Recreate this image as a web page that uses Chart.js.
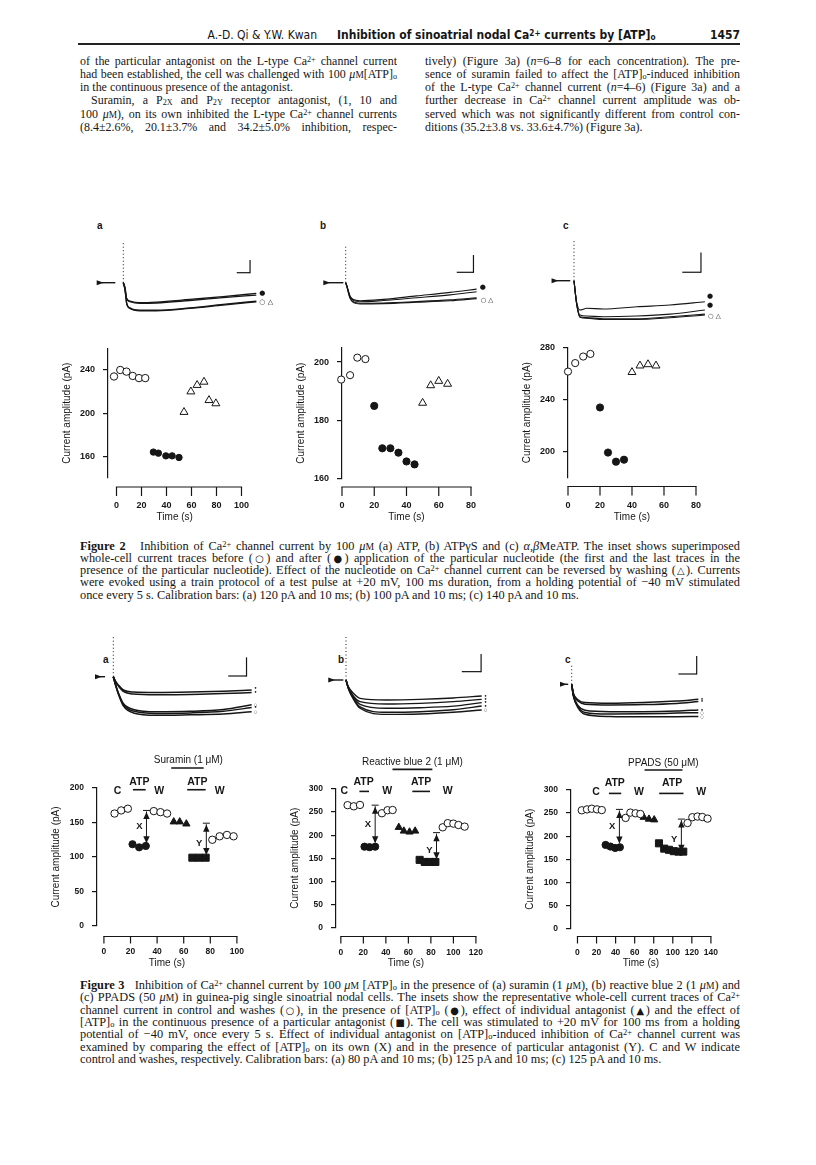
<!DOCTYPE html>
<html>
<head>
<meta charset="utf-8">
<title>Inhibition of sinoatrial nodal Ca2+ currents by [ATP]o</title>
<script src="https://cdn.jsdelivr.net/npm/chart.js"></script>
<style>
  body { margin: 0; background: #fff; }
  #page { position: relative; width: 816px; height: 1165px; overflow: hidden; color: #161616;
          font-family: "Liberation Serif", "DejaVu Serif", serif; }
  .ln { position: absolute; height: 14px; line-height: 14px; font-size: 11px; text-align: justify; text-align-last: justify; overflow: hidden; }
  .ln.end { text-align-last: left; }
  .cap { position: absolute; height: 13px; line-height: 13px; font-size: 10.5px; text-align: justify; text-align-last: justify; overflow: hidden; }
  .cap.end { text-align-last: left; }
  sup, sub { font-size: 0.68em; line-height: 0; }
  sup { vertical-align: 0.4em; }
  sub { vertical-align: -0.15em; }
  .sc { font-size: 0.78em; }
  .sym { font-family: "DejaVu Sans", sans-serif; font-size: 0.8em; }
  .hd { position: absolute; top: 28px; font-family: "Liberation Sans Narrow", "DejaVu Sans Condensed", "Liberation Sans", sans-serif; font-size: 12px; line-height: 14px; white-space: nowrap; }
  .lab { position: absolute; font-family: "Liberation Sans", Arial, sans-serif; font-weight: bold; font-size: 10px; }
  canvas { position: absolute; }
</style>
</head>
<body>
<div id="page">
  <div class="hd" style="left:200px;width:117px;text-align:right;">A.-D. Qi &amp; Y.W. Kwan</div>
  <div class="hd" style="left:337px;font-weight:bold;">Inhibition of sinoatrial nodal Ca<sup>2+</sup> currents by [ATP]<sub>o</sub></div>
  <div class="hd" style="left:700px;width:40px;text-align:right;font-weight:bold;">1457</div>
  <div style="position:absolute;left:78px;top:43px;width:662px;height:1.5px;background:#222;"></div>

  <div class="ln" style="left:80px;top:54px;width:317px;">of the particular antagonist on the L-type Ca<sup>2+</sup> channel current</div>
  <div class="ln" style="left:80px;top:67px;width:317px;">had been established, the cell was challenged with 100 <i>μ</i><span class="sc">M</span>[ATP]<sub>o</sub></div>
  <div class="ln end" style="left:80px;top:80px;width:317px;">in the continuous presence of the antagonist.</div>
  <div class="ln" style="left:91px;top:93px;width:306px;">Suramin, a P<sub>2X</sub> and P<sub>2Y</sub> receptor antagonist, (1, 10 and</div>
  <div class="ln" style="left:80px;top:107px;width:317px;">100 <i>μ</i><span class="sc">M</span>), on its own inhibited the L-type Ca<sup>2+</sup> channel currents</div>
  <div class="ln" style="left:80px;top:120px;width:317px;">(8.4±2.6%, 20.1±3.7% and 34.2±5.0% inhibition, respec-</div>

  <div class="ln" style="left:425px;top:54px;width:315px;">tively) (Figure 3a) (<i>n</i>=6–8 for each concentration). The pre-</div>
  <div class="ln" style="left:425px;top:67px;width:315px;">sence of suramin failed to affect the [ATP]<sub>o</sub>-induced inhibition</div>
  <div class="ln" style="left:425px;top:80px;width:315px;">of the L-type Ca<sup>2+</sup> channel current (<i>n</i>=4–6) (Figure 3a) and a</div>
  <div class="ln" style="left:425px;top:93px;width:315px;">further decrease in Ca<sup>2+</sup> channel current amplitude was ob-</div>
  <div class="ln" style="left:425px;top:107px;width:315px;">served which was not significantly different from control con-</div>
  <div class="ln end" style="left:425px;top:120px;width:315px;">ditions (35.2±3.8 vs. 33.6±4.7%) (Figure 3a).</div>

  <div class="lab" style="left:97px;top:220px;">a</div>
  <div class="lab" style="left:320px;top:220px;">b</div>
  <div class="lab" style="left:563px;top:220px;">c</div>
  <div class="lab" style="left:103px;top:654px;">a</div>
  <div class="lab" style="left:338px;top:654px;">b</div>
  <div class="lab" style="left:565px;top:654px;">c</div>

  <div class="cap" style="left:80px;top:540px;width:660px;"><b>Figure 2</b>&nbsp;&nbsp; Inhibition of Ca<sup>2+</sup> channel current by 100 <i>μ</i><span class="sc">M</span> (a) ATP, (b) ATPγS and (c) <i>α,β</i>MeATP. The inset shows superimposed</div>
  <div class="cap" style="left:80px;top:552px;width:660px;">whole-cell current traces before (<span class="sym">○</span>) and after (<span class="sym">●</span>) application of the particular nucleotide (the first and the last traces in the</div>
  <div class="cap" style="left:80px;top:564px;width:660px;">presence of the particular nucleotide). Effect of the nucleotide on Ca<sup>2+</sup> channel current can be reversed by washing (<span class="sym">△</span>). Currents</div>
  <div class="cap" style="left:80px;top:576px;width:660px;">were evoked using a train protocol of a test pulse at +20 mV, 100 ms duration, from a holding potential of −40 mV stimulated</div>
  <div class="cap end" style="left:80px;top:589px;width:660px;">once every 5 s. Calibration bars: (a) 120 pA and 10 ms; (b) 100 pA and 10 ms; (c) 140 pA and 10 ms.</div>

  <div class="cap" style="left:80px;top:979px;width:660px;"><b>Figure 3</b>&nbsp;&nbsp; Inhibition of Ca<sup>2+</sup> channel current by 100 <i>μ</i><span class="sc">M</span> [ATP]<sub>o</sub> in the presence of (a) suramin (1 <i>μ</i><span class="sc">M</span>), (b) reactive blue 2 (1 <i>μ</i><span class="sc">M</span>) and</div>
  <div class="cap" style="left:80px;top:991px;width:660px;">(c) PPADS (50 <i>μ</i><span class="sc">M</span>) in guinea-pig single sinoatrial nodal cells. The insets show the representative whole-cell current traces of Ca<sup>2+</sup></div>
  <div class="cap" style="left:80px;top:1004px;width:660px;">channel current in control and washes (<span class="sym">○</span>), in the presence of [ATP]<sub>o</sub> (<span class="sym">●</span>), effect of individual antagonist (<span class="sym">▲</span>) and the effect of</div>
  <div class="cap" style="left:80px;top:1016px;width:660px;">[ATP]<sub>o</sub> in the continuous presence of a particular antagonist (<span class="sym">■</span>). The cell was stimulated to +20 mV for 100 ms from a holding</div>
  <div class="cap" style="left:80px;top:1028px;width:660px;">potential of −40 mV, once every 5 s. Effect of individual antagonist on [ATP]<sub>o</sub>-induced inhibition of Ca<sup>2+</sup> channel current was</div>
  <div class="cap" style="left:80px;top:1041px;width:660px;">examined by comparing the effect of [ATP]<sub>o</sub> on its own (X) and in the presence of particular antagonist (Y). C and W indicate</div>
  <div class="cap end" style="left:80px;top:1053px;width:660px;">control and washes, respectively. Calibration bars: (a) 80 pA and 10 ms; (b) 125 pA and 10 ms; (c) 125 pA and 10 ms.</div>
</div>

<script>
  const INK = "#161616";
  const SANS = '"Liberation Sans", Arial, sans-serif';

  // ---------- Figure 2 : time (s) and current amplitude (pA) ----------
  const f2aCtrlT = [-2, 3, 8, 13, 18, 23];
  const f2aCtrlV = [234, 240, 238.5, 234.5, 232.5, 232.5];
  const f2aAtpT  = [29.5, 33.5, 39.5, 44.5, 50];
  const f2aAtpV  = [164, 163, 160.5, 160.5, 159];
  const f2aWashT = [54, 59.5, 64.5, 70, 74, 79.5];
  const f2aWashV = [201, 220, 226, 229, 212, 209];

  const f2bCtrlT = [-0.5, 5, 9.5, 14.5];
  const f2bCtrlV = [194, 195.5, 201.5, 201];
  const f2bAtpT  = [20, 25, 30, 35, 40, 45];
  const f2bAtpV  = [185, 170.5, 170.5, 169, 166, 165];
  const f2bWashT = [50, 55, 60, 65.5];
  const f2bWashV = [186, 192, 193.5, 192.5];

  const f2cCtrlT = [0, 4.5, 9.5, 14];
  const f2cCtrlV = [261.5, 268, 273, 275];
  const f2cAtpT  = [20, 25, 30, 35];
  const f2cAtpV  = [234, 199.5, 192.5, 194];
  const f2cWashT = [40, 45, 50, 55];
  const f2cWashV = [261, 266, 267, 266];

  const f2aYTicks = [160, 200, 240];
  const f2bYTicks = [160, 180, 200];
  const f2cYTicks = [200, 240, 280];
  const f2aXTicks = [0, 20, 40, 60, 80, 100];
  const f2bcXTicks = [0, 20, 40, 60, 80];

  // ---------- Figure 3 ----------
  const f3aCT  = [8, 13, 18];             const f3aCV  = [163, 167.5, 170];
  const f3aAT  = [21.5, 26.5, 31.5];      const f3aAV  = [118.5, 114, 116];
  const f3aW1T = [37.5, 42.5, 47.5];      const f3aW1V = [166.5, 165, 163];
  const f3aNT  = [52.5, 57, 62];          const f3aNV  = [151, 151, 148];
  const f3aST  = [66.5, 71.5, 76.5];      const f3aSV  = [99, 99, 99];
  const f3aW2T = [81.5, 87, 92.5, 97.5];  const f3aW2V = [125, 130, 132, 130];
  const f3aArrows = [[32, 167.5, 120, "X"], [77, 149, 103, "Y"]];

  const f3bCT  = [6, 11.5, 17];               const f3bCV  = [265, 262.5, 265.5];
  const f3bAT  = [21, 25.5, 30.5];            const f3bAV  = [175, 174, 175];
  const f3bW1T = [36.5, 41.5, 46];            const f3bW1V = [247.5, 254, 254.5];
  const f3bNT  = [51.5, 56, 61, 66];          const f3bNV  = [217, 209, 207, 209];
  const f3bST  = [70, 74.5, 79, 84];          const f3bSV  = [146.5, 142, 142, 142];
  const f3bW2T = [90.5, 95, 100, 104.5, 110]; const f3bW2V = [217, 226, 225, 222, 218.5];
  const f3bArrows = [[30.5, 265, 182.5, "X"], [85, 205.5, 148, "Y"]];

  const f3cCT  = [4.5, 10, 15, 20.5, 25.5];         const f3cCV  = [256, 258, 259.5, 258, 256.5];
  const f3cAT  = [29.5, 34.5, 39.5, 44.5];          const f3cAV  = [181, 177.5, 174.5, 176];
  const f3cW1T = [50.5, 55.5, 61, 66];              const f3cW1V = [239.5, 251, 249.5, 248];
  const f3cNT  = [69.5, 75, 80.5];                  const f3cNV  = [241, 237, 235.5];
  const f3cST  = [85.5, 91, 96, 101, 106, 111];     const f3cSV  = [184.5, 173, 170.5, 167.5, 166.5, 166.5];
  const f3cW2T = [115.5, 120.5, 126, 131, 136.5];   const f3cW2V = [228.5, 241, 242.5, 241.5, 238];
  const f3cArrows = [[44, 258, 184, "X"], [109, 237, 166.5, "Y"]];

  const f3aYTicks = [0, 50, 100, 150, 200];
  const f3bcYTicks = [0, 50, 100, 150, 200, 250, 300];
  const f3aXTicks = [0, 20, 40, 60, 80, 100];
  const f3bXTicks = [0, 20, 40, 60, 80, 100, 120];
  const f3cXTicks = [0, 20, 40, 60, 80, 100, 120, 140];

  // labels above the plots: [text, time, pA]
  const f3aNotes = [["C", 10.3, 196], ["ATP", 26.6, 208.7], ["W", 41.5, 196], ["ATP", 70.3, 208.7], ["W", 87, 196], ["Suramin (1 μM)", 63.5, 240]];
  const f3aBars  = [[21.8, 31.4, 197.5], [62.6, 76.5, 197.5], [50.6, 75, 229]];
  const f3bNotes = [["C", 3.1, 295.7], ["ATP", 20.2, 314.5], ["W", 41.3, 294.8], ["ATP", 71.3, 314.5], ["W", 95, 294.8], ["Reactive blue 2 (1 μM)", 63.6, 357.5]];
  const f3bBars  = [[16.5, 25, 294.8], [63.5, 79.2, 294.8], [45.9, 81.3, 342.6]];
  const f3cNotes = [["C", 19.4, 295], ["ATP", 39.1, 314.5], ["W", 64.6, 295], ["ATP", 99.3, 314.5], ["W", 129.9, 295], ["PPADS (50 μM)", 90.1, 359]];
  const f3cBars  = [[33, 45.9, 292.6], [85.7, 111.2, 292.6], [70.4, 110.2, 343.3]];

  // ---------- inset current traces : time (ms) and current (pA) ----------
  const f2aTrT = [0, 1.3, 2.5, 5, 12.5, 25, 50, 75, 100];
  const f2aTr = [
    [0, -69, -195, -243, -265, -265, -243, -211, -180],
    [0, -65, -190, -238, -260, -260, -238, -205, -175],
    [0, -50, -148, -173, -189, -183, -158, -132, -101],
    [0, -52, -152, -180, -196, -192, -168, -142, -117]
  ];
  const f2bTrT = [0, 0.6, 2.6, 4.6, 8.6, 22.5, 42.5, 62.5, 78.4];
  const f2bTr = [
    [0, -20, -90, -115, -123, -121, -113, -104, -92],
    [0, -18, -86, -110, -119, -117, -109, -99, -87],
    [0, -16, -80, -102, -110, -103, -87, -70, -52],
    [0, -15, -76, -97, -104, -96, -76, -56, -37]
  ];
  const f2cTrT = [0, 1.4, 3.2, 6.8, 15.7, 33.5, 51.3, 70];
  const f2cTr = [
    [0, -165, -260, -267, -275, -275, -263, -244],
    [0, -163, -256, -262, -270, -270, -256, -237],
    [0, -160, -244, -251, -256, -251, -237, -208],
    [0, -150, -208, -196, -201, -185, -173, -149]
  ];
  const f3aTrT = [0, 1.3, 2.8, 5.5, 11, 23.7, 41.9, 60.1, 75.6];
  const f3aTr = [
    [0, -20, -36, -57, -66, -68, -66, -62, -57],
    [0, -22, -40, -63, -74, -77, -76, -72, -68],
    [0, -35, -70, -115, -140, -150, -148, -140, -120],
    [0, -37, -72, -120, -147, -157, -155, -148, -132],
    [0, -38, -75, -125, -155, -165, -163, -160, -150]
  ];
  const f3bTrT = [0, 1.2, 3.8, 7.3, 21, 38.3, 55.6, 70.3];
  const f3bTr = [
    [0, -47, -94, -130, -141, -137, -127, -113],
    [0, -52, -113, -153, -170, -165, -153, -137],
    [0, -55, -120, -172, -200, -196, -185, -160],
    [0, -58, -128, -190, -228, -224, -210, -184],
    [0, -60, -135, -200, -243, -240, -228, -212]
  ];
  const f3cTrT = [0, 0.9, 3.6, 7.3, 20.9, 39.1, 57.3, 69.2];
  const f3cTr = [
    [0, -62, -109, -127, -132, -127, -116, -104],
    [0, -66, -118, -138, -143, -141, -133, -120],
    [0, -75, -150, -180, -190, -190, -186, -178],
    [0, -78, -158, -195, -206, -205, -200, -197],
    [0, -80, -165, -208, -224, -226, -225, -224]
  ];

  // ---------- justified text: one font size per block, as large as the tightest line allows ----------
  function fitLines(sel, base) {
    const els = Array.from(document.querySelectorAll(sel));
    let k = Infinity;
    els.forEach(el => {
      el.style.whiteSpace = "nowrap";
      el.style.textAlign = "left";
      el.style.textAlignLast = "left";
      const r = document.createRange();
      r.selectNodeContents(el);
      const w = r.getBoundingClientRect().width;
      el.style.whiteSpace = "";
      el.style.textAlign = "";
      el.style.textAlignLast = "";
      if (w > 0) k = Math.min(k, el.clientWidth / w);
    });
    const size = Math.min(base * k * 0.985, base * 1.25);
    els.forEach(el => { el.style.fontSize = size.toFixed(2) + "px"; });
  }
  fitLines(".ln", 11);
  fitLines(".cap", 10.5);

  // ---------- drawing helpers ----------
  const cfg = {};
  const page = document.getElementById("page");

  function addCanvas(id, left, top, w, h) {
    const c = document.createElement("canvas");
    c.id = id;
    c.width = w; c.height = h;
    c.style.left = left + "px"; c.style.top = top + "px";
    c.style.width = w + "px"; c.style.height = h + "px";
    page.appendChild(c);
    return c;
  }

  function seg(ctx, x1, y1, x2, y2) {
    ctx.beginPath(); ctx.moveTo(x1, y1); ctx.lineTo(x2, y2); ctx.stroke();
  }

  function head(ctx, x, y, dir) {
    ctx.beginPath();
    ctx.moveTo(x, y);
    ctx.lineTo(x - 3.2, y + dir * 7);
    ctx.lineTo(x + 3.2, y + dir * 7);
    ctx.closePath(); ctx.fill();
  }

  const figPlugin = {
    id: "fig",
    afterDraw(chart) {
      const o = cfg[chart.canvas.id];
      if (!o) return;
      const ctx = chart.ctx, xs = chart.scales.x, ys = chart.scales.y, ca = chart.chartArea;
      ctx.save();
      ctx.strokeStyle = INK; ctx.fillStyle = INK; ctx.lineWidth = 1.2;

      if (o.xTicks) {
        // detached time axis, ticks hanging down
        const y0 = ca.bottom + o.xGap;
        const xa = xs.getPixelForValue(o.xTicks[0]);
        const xb = xs.getPixelForValue(o.xTicks[o.xTicks.length - 1]);
        seg(ctx, xa - 0.6, y0, xb + 0.6, y0);
        o.xTicks.forEach(v => {
          const x = xs.getPixelForValue(v);
          seg(ctx, x, y0, x, y0 + o.tickLen);
        });
      }
      if (o.bars) {
        ctx.lineWidth = 1.6;
        o.bars.forEach(b => seg(ctx, xs.getPixelForValue(b[0]), ys.getPixelForValue(b[2]),
                                      xs.getPixelForValue(b[1]), ys.getPixelForValue(b[2])));
      }
      if (o.notes) {
        ctx.textAlign = "center"; ctx.textBaseline = "middle";
        o.notes.forEach(n => {
          ctx.font = (n[0].length > 3 ? "10px " : "bold 10.5px ") + SANS;
          ctx.fillText(n[0], xs.getPixelForValue(n[1]), ys.getPixelForValue(n[2]));
        });
      }
      if (o.arrows) {
        ctx.lineWidth = 1;
        o.arrows.forEach(a => {
          const x = xs.getPixelForValue(a[0]);
          const yt = ys.getPixelForValue(a[1]), yb = ys.getPixelForValue(a[2]);
          seg(ctx, x - 3.5, yt, x + 3.5, yt);
          seg(ctx, x, yt + 1, x, yb - 1);
          head(ctx, x, yt + 1.5, 1);
          head(ctx, x, yb, -1);
          ctx.font = "bold 9.5px " + SANS;
          ctx.textAlign = "right"; ctx.textBaseline = "middle";
          ctx.fillText(a[3], x - 4, (yt + yb) / 2 + (a[3] === "Y" ? 4 : 0));
        });
      }
      if (o.hold) {
        // holding potential marker at the zero-current level
        const y = ys.getPixelForValue(0);
        const x1 = xs.getPixelForValue(o.hold[0]), x2 = xs.getPixelForValue(o.hold[1]);
        ctx.lineWidth = 1.4;
        seg(ctx, x1 + 5, y, x2, y);
        ctx.beginPath();
        ctx.moveTo(x1, y - 2.5); ctx.lineTo(x1 + 7, y); ctx.lineTo(x1, y + 2.5); ctx.closePath(); ctx.fill();
      }
      if (o.cal) {
        // calibration bar: 10 ms horizontal, pA vertical at its right end
        const c = o.cal;
        const xl = xs.getPixelForValue(c[0]), xr = xs.getPixelForValue(c[0] + c[2]);
        const yb = ys.getPixelForValue(c[1]), yt = ys.getPixelForValue(c[1] + c[3]);
        ctx.lineWidth = 1.2;
        seg(ctx, xl, yb, xr, yb);
        seg(ctx, xr, yb + 0.6, xr, yt);
      }
      if (o.ends) {
        ctx.textAlign = "left"; ctx.textBaseline = "middle";
        const ds = chart.data.datasets;
        o.ends.forEach(e => {
          const pts = ds[e[0]].data, last = pts[pts.length - 1];
          ctx.font = e[4] + "px DejaVu Sans";
          ctx.fillText(e[1], xs.getPixelForValue(last.x) + e[2], ys.getPixelForValue(last.y) + e[3]);
        });
      }
      ctx.restore();
    }
  };

  function pts(t, v) { return t.map((x, i) => ({ x: x, y: v[i] })); }

  function series(t, v, style, r, filled) {
    return {
      data: pts(t, v), pointStyle: style, pointRadius: r, borderWidth: 1,
      borderColor: INK, pointBackgroundColor: filled ? INK : "#fff",
      showLine: false, clip: false
    };
  }

  function scatterPanel(p) {
    const yW = 50, padR = 22;
    const left = p.axisX - yW, top = p.plotTop - p.padTop;
    const right = p.xMaxPx + padR, bottom = p.titleY + 6;
    const c = addCanvas(p.id, left, top, right - left, bottom - top);
    cfg[p.id] = { xTicks: p.xTicks, xGap: p.xGap, tickLen: p.tickLen, notes: p.notes, bars: p.bars, arrows: p.arrows };
    new Chart(c, {
      type: "scatter",
      data: { datasets: p.datasets },
      options: {
        responsive: false, animation: false, events: [],
        layout: { padding: { top: p.padTop, right: padR, left: 0, bottom: 0 } },
        plugins: { legend: { display: false }, tooltip: { enabled: false } },
        scales: {
          x: {
            type: "linear", min: p.xMin, max: p.xMax,
            grid: { display: false, drawTicks: false }, border: { display: false },
            afterBuildTicks: s => { s.ticks = p.xTicks.map(v => ({ value: v })); },
            afterFit: s => { s.height = bottom - p.plotBottom; },
            ticks: { padding: p.xLabelPad, color: INK, maxRotation: 0, autoSkip: false,
                     font: { family: SANS, size: p.tickSize, weight: "bold" } },
            title: { display: true, text: "Time (s)", color: INK, padding: { top: 0, bottom: 0 },
                     font: { family: SANS, size: 10 } }
          },
          y: {
            min: p.yMin, max: p.yMax,
            afterBuildTicks: s => { s.ticks = p.yTicks.map(v => ({ value: v })); },
            afterFit: s => { s.width = yW; },
            border: { display: true, color: INK, width: 1.2 },
            grid: { drawOnChartArea: false, drawTicks: true, tickLength: 5, color: INK, lineWidth: 1.2 },
            ticks: { padding: 8, color: INK, font: { family: SANS, size: p.tickSize, weight: "bold" } },
            title: { display: true, text: "Current amplitude (pA)", color: INK, padding: { top: 3, bottom: 0 },
                     font: { family: SANS, size: 10 } }
          }
        }
      },
      plugins: [figPlugin]
    });
  }

  function tracePanel(p) {
    const c = addCanvas(p.id, p.left, p.top, p.w, p.h);
    const xMin = (p.left - p.t0px) / p.pxPerMs, xMax = xMin + p.w / p.pxPerMs;
    const yMax = (p.base - p.top) * p.pAPerPx, yMin = yMax - p.h * p.pAPerPx;
    cfg[p.id] = { hold: p.hold, cal: p.cal, ends: p.ends };
    const ds = p.traces.map(v => ({
      data: pts(p.times, v), showLine: true, pointRadius: 0, borderColor: INK,
      borderWidth: p.lw, cubicInterpolationMode: "monotone", clip: false
    }));
    ds.push({ data: [{ x: 0, y: 0 }, { x: 0, y: p.spike }], showLine: true, pointRadius: 0,
              borderColor: INK, borderWidth: 1, borderDash: [1, 2.5] });
    new Chart(c, {
      type: "scatter",
      data: { datasets: ds },
      options: {
        responsive: false, animation: false, events: [],
        layout: { padding: 0 },
        plugins: { legend: { display: false }, tooltip: { enabled: false } },
        scales: { x: { display: false, min: xMin, max: xMax }, y: { display: false, min: yMin, max: yMax } }
      },
      plugins: [figPlugin]
    });
  }

  // ---------- Figure 2 panels ----------
  const fig2Sets = (cT, cV, aT, aV, wT, wV, rc, ra) => [
    series(cT, cV, "circle", rc, false),
    series(aT, aV, "circle", ra, true),
    series(wT, wV, "triangle", 4.6, false)
  ];

  scatterPanel({ id: "f2a", axisX: 108, plotTop: 345, plotBottom: 478, padTop: 10, xMaxPx: 249, titleY: 517,
    xMin: -6.8, xMax: 100, yMin: 140, yMax: 260, yTicks: f2aYTicks, xTicks: f2aXTicks,
    xGap: 9, tickLen: 9, xLabelPad: 22, tickSize: 9,
    datasets: fig2Sets(f2aCtrlT, f2aCtrlV, f2aAtpT, f2aAtpV, f2aWashT, f2aWashV, 3.7, 3.2) });
  scatterPanel({ id: "f2b", axisX: 342, plotTop: 344, plotBottom: 479, padTop: 10, xMaxPx: 475, titleY: 517,
    xMin: 0, xMax: 80, yMin: 160, yMax: 205, yTicks: f2bYTicks, xTicks: f2bcXTicks,
    xGap: 8, tickLen: 9, xLabelPad: 21, tickSize: 9,
    datasets: fig2Sets(f2bCtrlT, f2bCtrlV, f2bAtpT, f2bAtpV, f2bWashT, f2bWashV, 3.6, 3.6) });
  scatterPanel({ id: "f2c", axisX: 568, plotTop: 344, plotBottom: 478, padTop: 10, xMaxPx: 701, titleY: 517,
    xMin: 0, xMax: 80, yMin: 180, yMax: 280, yTicks: f2cYTicks, xTicks: f2bcXTicks,
    xGap: 8.5, tickLen: 9, xLabelPad: 22, tickSize: 9,
    datasets: fig2Sets(f2cCtrlT, f2cCtrlV, f2cAtpT, f2cAtpV, f2cWashT, f2cWashV, 3.6, 3.6) });

  // ---------- Figure 3 panels ----------
  const fig3Sets = (cT, cV, aT, aV, w1T, w1V, nT, nV, sT, sV, w2T, w2V) => [
    series(cT, cV, "circle", 3.7, false),
    series(aT, aV, "circle", 3.6, true),
    series(w1T, w1V, "circle", 3.7, false),
    series(nT, nV, "triangle", 4.2, true),
    series(sT, sV, "rect", 5, true),
    series(w2T, w2V, "circle", 3.7, false)
  ];

  scatterPanel({ id: "f3a", axisX: 97, plotTop: 788, plotBottom: 926, padTop: 40, xMaxPx: 243.3, titleY: 963,
    xMin: -5.2, xMax: 100, yMin: 0, yMax: 200, yTicks: f3aYTicks, xTicks: f3aXTicks,
    xGap: 10.5, tickLen: 7, xLabelPad: 21, tickSize: 8.5,
    notes: f3aNotes, bars: f3aBars, arrows: f3aArrows,
    datasets: fig3Sets(f3aCT, f3aCV, f3aAT, f3aAV, f3aW1T, f3aW1V, f3aNT, f3aNV, f3aST, f3aSV, f3aW2T, f3aW2V) });
  scatterPanel({ id: "f3b", axisX: 336, plotTop: 789, plotBottom: 927.5, padTop: 40, xMaxPx: 481, titleY: 963,
    xMin: -4.3, xMax: 120, yMin: 0, yMax: 300, yTicks: f3bcYTicks, xTicks: f3bXTicks,
    xGap: 9, tickLen: 7, xLabelPad: 20, tickSize: 8.5,
    notes: f3bNotes, bars: f3bBars, arrows: f3bArrows,
    datasets: fig3Sets(f3bCT, f3bCV, f3bAT, f3bAV, f3bW1T, f3bW1V, f3bNT, f3bNV, f3bST, f3bSV, f3bW2T, f3bW2V) });
  scatterPanel({ id: "f3c", axisX: 571, plotTop: 790, plotBottom: 928.5, padTop: 40, xMaxPx: 715, titleY: 963,
    xMin: -6.8, xMax: 140, yMin: 0, yMax: 300, yTicks: f3bcYTicks, xTicks: f3cXTicks,
    xGap: 8, tickLen: 7, xLabelPad: 19, tickSize: 8.5,
    notes: f3cNotes, bars: f3cBars, arrows: f3cArrows,
    datasets: fig3Sets(f3cCT, f3cCV, f3cAT, f3cAV, f3cW1T, f3cW1V, f3cNT, f3cNV, f3cST, f3cSV, f3cW2T, f3cW2V) });

  // ---------- inset traces ----------
  tracePanel({ id: "i2a", left: 90, top: 240, w: 185, h: 85, t0px: 123.3, pxPerMs: 1.33, base: 282.7, pAPerPx: 9.45,
    times: f2aTrT, traces: f2aTr, spike: 375, hold: [-20, -6], cal: [85.3, 94.5, 10, 120], lw: 1.3,
    ends: [[2, "●", 3, 0, 7], [0, "○ △", 3, 0, 7]] });
  tracePanel({ id: "i2b", left: 310, top: 240, w: 190, h: 80, t0px: 345.7, pxPerMs: 1.67, base: 282.7, pAPerPx: 5.77,
    times: f2bTrT, traces: f2bTr, spike: 208, hold: [-13.4, -1.4], cal: [66.5, 60, 10, 100], lw: 1.1,
    ends: [[3, "●", 3, -2, 7], [0, "○ △", 4, 2, 6.5]] });
  tracePanel({ id: "i2c", left: 540, top: 240, w: 200, h: 85, t0px: 574, pxPerMs: 1.87, base: 280.7, pAPerPx: 7.1,
    times: f2cTrT, traces: f2cTr, spike: 289, hold: [-12, -2], cal: [57.9, 60, 10, 140], lw: 1.1,
    ends: [[3, "●", 2, -5, 7], [2, "●", 2, -5, 7], [0, "○ △", 3, 1, 6.5]] });
  tracePanel({ id: "i3a", left: 90, top: 630, w: 180, h: 95, t0px: 113.3, pxPerMs: 1.83, base: 676.7, pAPerPx: 4.28,
    times: f3aTrT, traces: f3aTr, spike: 171, hold: [-10, -4.5], cal: [62.8, 3, 10, 80], lw: 1.5,
    ends: [[0, "•", 2, -2, 6], [1, "•", 2, 0, 6], [2, "○", 2, 0, 4], [3, "•", 2, 0, 6], [4, "○", 2, 0, 4]] });
  tracePanel({ id: "i3b", left: 320, top: 630, w: 180, h: 95, t0px: 346, pxPerMs: 1.93, base: 680, pAPerPx: 7.07,
    times: f3bTrT, traces: f3bTr, spike: 306, hold: [-9.2, -1.4], cal: [60, 59, 10, 125], lw: 1.4,
    ends: [[0, "•", 2, 0, 6], [1, "•", 2, 0, 6], [2, "•", 2, 0, 6], [3, "•", 2, 0, 6], [4, "○", 2, 0, 4]] });
  tracePanel({ id: "i3c", left: 555, top: 630, w: 180, h: 95, t0px: 571.7, pxPerMs: 1.83, base: 684.3, pAPerPx: 6.94,
    times: f3cTrT, traces: f3cTr, spike: 134, hold: [-6.4, -1.9], cal: [58.3, 71.5, 10, 125], lw: 1.5,
    ends: [[0, "•", 2, 0, 6], [1, "•", 2, 0, 6], [2, "•", 2, 0, 6], [3, "○", 2, 0, 4], [4, "○", 2, 0, 4]] });
</script>
</body>
</html>
